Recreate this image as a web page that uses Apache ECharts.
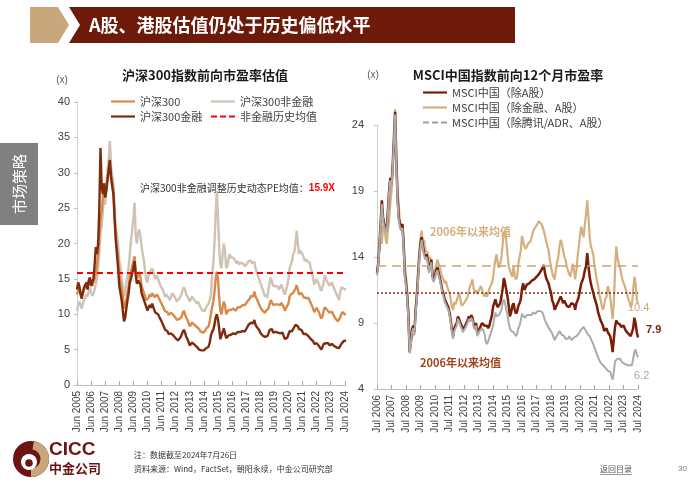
<!DOCTYPE html>
<html><head><meta charset="utf-8">
<script src="https://cdn.jsdelivr.net/npm/echarts/dist/echarts.min.js"></script>
<style>html,body{margin:0;padding:0;background:#fff}#c{width:700px;height:490px}</style>
</head><body><div id="c"></div>
<script>
// ---------------- DATA ----------------
// Left chart: monthly, Jun 2005 .. Jul 2024
const hs300NonFin = [
  10.5, 11.2, 11.8, 11.4, 10.8, 11.5, 12.0,
  12.3, 12.8, 12.5, 13.2, 13.8, 13.0, 12.6, 12.9, 13.5, 14.2, 15.0, 16.5,
  19.0, 21.5, 22.5, 24.5, 27.0, 25.5, 28.0, 30.5, 32.0, 34.5, 31.0, 29.5,
  28.5, 25.0, 22.0, 21.5, 20.0, 17.5, 16.8, 15.0, 14.0, 12.5, 13.0, 14.5,
  15.5, 16.8, 18.5, 20.5, 22.0, 23.5, 25.8, 21.0, 20.0, 21.5, 22.0, 21.0,
  19.5, 18.5, 17.5, 16.0, 14.8, 14.5, 15.5, 16.0, 15.8, 16.5, 16.0, 15.3,
  15.0, 15.5, 15.0, 14.8, 14.0, 13.8, 13.5, 13.0, 12.5, 12.8, 12.6, 12.3,
  12.0, 12.5, 13.0, 12.8, 12.5, 12.2, 11.8, 11.7, 12.2, 12.5, 12.8, 13.5,
  13.8, 13.5, 12.8, 12.5, 12.2, 11.8, 12.0, 12.5, 12.2, 12.0, 11.8, 11.5,
  11.8, 11.6, 11.0, 10.8, 10.5, 10.4, 10.5, 11.0, 11.2, 11.5, 12.0, 12.8,
  15.5, 17.0, 20.0, 24.0, 27.5, 24.0, 19.5, 17.0, 16.5, 18.5, 20.0, 19.0,
  16.5, 16.8, 17.8, 18.5, 18.0, 18.2, 18.0, 17.8, 17.5, 17.2, 17.5, 17.0,
  17.3, 17.5, 17.2, 17.0, 16.8, 17.0, 17.2, 17.5, 17.3, 17.6, 17.2, 17.0,
  17.4, 16.5, 16.0, 15.5, 15.0, 14.5, 14.0, 13.5, 13.0, 12.5, 12.8, 12.3,
  13.5, 14.5, 15.2, 15.0, 14.0, 14.2, 14.0, 13.8, 13.9, 13.5, 13.7, 14.2,
  14.0, 13.2, 12.8, 13.5, 14.0, 15.0, 16.5, 17.0, 17.5, 18.5, 18.8, 20.0,
  21.8, 20.0, 18.5, 19.0, 19.2, 18.5, 18.0, 17.5, 17.8, 17.5, 17.6, 17.3,
  16.5, 16.0, 15.0, 14.2, 14.5, 15.0, 14.8, 14.2, 13.6, 13.3, 13.5, 14.5,
  15.5, 15.0, 14.6, 14.3, 14.0, 14.2, 14.5, 14.0, 13.6, 13.2, 12.8, 12.5,
  12.0, 13.0, 13.8, 14.0, 13.6, 13.4, 13.5
];
const hs300 = [
  12.8, 13.3, 13.8, 13.2, 12.6, 13.0, 13.5,
  13.8, 14.2, 13.8, 14.5, 15.0, 14.3, 14.0, 14.5, 15.0, 15.8, 17.0, 18.5,
  21.0, 23.5, 24.5, 26.5, 28.5, 26.5, 28.0, 29.5, 30.0, 31.0, 29.0, 28.5,
  27.5, 24.0, 21.0, 19.5, 18.0, 15.5, 14.5, 13.5, 12.5, 10.8, 11.0, 12.0,
  13.0, 14.0, 15.5, 16.0, 16.8, 17.5, 18.2, 16.0, 15.0, 15.5, 16.0, 15.2,
  14.0, 13.5, 13.3, 12.5, 12.0, 11.8, 12.3, 12.8, 12.5, 13.0, 12.8, 12.4,
  12.2, 12.8, 12.5, 12.3, 11.8, 11.5, 11.3, 10.8, 10.4, 10.6, 10.3, 9.9,
  9.8, 10.2, 10.0, 9.9, 9.7, 9.5, 9.2, 9.0, 9.3, 9.5, 9.6, 10.2,
  10.5, 10.3, 9.5, 9.2, 9.0, 8.3, 8.4, 8.8, 8.6, 8.5, 8.4, 8.2,
  8.0, 7.9, 7.6, 7.5, 7.4, 7.5, 7.6, 8.0, 8.2, 8.3, 9.0, 10.0,
  11.0, 11.8, 13.0, 15.0, 16.0, 15.0, 12.5, 10.5, 10.0, 11.0, 11.8, 11.3,
  10.0, 10.2, 10.6, 10.8, 10.6, 10.7, 10.8, 10.6, 10.5, 10.7, 11.0, 10.8,
  11.0, 11.2, 11.3, 11.2, 11.3, 11.5, 11.8, 12.0, 12.2, 12.6, 12.8, 12.5,
  13.2, 12.5, 12.2, 11.8, 11.6, 11.0, 10.8, 10.5, 10.6, 10.2, 10.5, 10.3,
  10.8, 11.5, 12.0, 12.0, 11.3, 11.5, 11.4, 11.2, 11.4, 11.2, 11.3, 11.6,
  11.6, 11.0, 10.5, 10.9, 11.0, 11.5, 12.5, 12.8, 12.6, 13.0, 13.2, 13.6,
  14.1, 13.5, 12.8, 12.9, 13.0, 12.9, 12.4, 12.2, 12.3, 12.2, 12.3, 12.1,
  11.6, 11.5, 10.8, 10.3, 10.5, 10.9, 10.6, 10.3, 9.8, 9.4, 9.7, 10.5,
  11.0, 10.8, 10.6, 10.5, 10.2, 10.3, 10.4, 10.0, 9.7, 9.4, 9.2, 9.0,
  8.8, 9.5, 10.0, 10.3, 10.4, 10.0, 10.0
];
const hs300Fin = [
  13.5, 14.5, 14.0, 12.8, 12.2, 13.0, 13.8,
  14.0, 14.5, 13.5, 14.8, 15.2, 14.0, 13.8, 15.0, 17.0, 19.5, 18.5, 20.0,
  25.0, 33.5, 28.0, 27.0, 28.5, 26.5, 27.5, 29.0, 30.5, 31.8, 29.5, 28.0,
  27.0, 23.5, 20.5, 18.5, 16.5, 14.0, 13.0, 12.0, 10.5, 9.0, 9.5, 10.8,
  12.0, 13.0, 14.5, 15.0, 15.8, 16.5, 17.5, 15.5, 14.3, 14.8, 15.0, 14.2,
  13.0, 12.5, 12.4, 11.5, 11.0, 10.5, 11.0, 11.3, 10.9, 11.5, 11.0, 10.5,
  10.2, 10.4, 10.0, 9.8, 9.3, 9.0, 8.6, 8.2, 7.8, 7.9, 7.6, 7.2,
  7.0, 7.3, 7.1, 7.0, 6.8, 6.6, 6.4, 6.3, 6.5, 6.7, 6.9, 7.5,
  7.8, 7.4, 6.8, 6.5, 6.3, 5.6, 5.7, 6.0, 5.8, 5.7, 5.6, 5.4,
  5.2, 5.0, 4.9, 4.9, 4.8, 4.9, 5.0, 5.2, 5.3, 5.4, 6.0, 7.0,
  7.5, 7.8, 8.5, 9.5, 10.0, 9.3, 8.0, 6.5, 6.5, 7.5, 8.0, 7.3,
  6.6, 6.8, 7.0, 7.2, 7.1, 7.2, 7.3, 7.1, 7.2, 7.4, 7.5, 7.4,
  7.5, 7.6, 7.6, 7.5, 7.6, 7.8, 8.2, 8.5, 8.6, 8.8, 9.0, 8.7,
  9.2, 8.5, 8.2, 8.0, 7.8, 7.4, 7.2, 7.0, 7.1, 6.8, 7.0, 6.9,
  7.3, 7.8, 8.0, 7.9, 7.4, 7.6, 7.5, 7.3, 7.4, 7.2, 7.3, 7.5,
  7.4, 6.9, 6.5, 6.6, 6.7, 6.9, 7.6, 7.8, 7.6, 7.9, 8.2, 8.5,
  8.6, 8.3, 7.9, 7.7, 7.8, 7.6, 7.2, 7.1, 7.2, 7.0, 6.9, 6.8,
  6.5, 6.6, 6.2, 5.8, 5.8, 5.9, 5.7, 5.5, 5.3, 5.0, 5.2, 5.8,
  6.0, 5.9, 5.7, 5.9, 5.6, 5.7, 5.8, 5.6, 5.5, 5.4, 5.3, 5.2,
  5.2, 5.5, 5.8, 6.0, 6.2, 6.1, 6.3
];
const nonFinHistMean = 15.9;

// Right chart: monthly, Jul 2006 .. Jul 2024
const msciExFinA = [
  12.8, 13.5, 14.5, 15.5, 15.0, 16.3,
  16.5, 15.5, 15.0, 16.0, 16.8, 18.0, 19.0, 20.5, 22.5, 25.2, 21.5, 19.0,
  18.0, 16.5, 16.0, 16.5, 15.5, 13.5, 12.5, 11.5, 10.0, 7.0, 7.5, 8.5,
  8.0, 8.5, 10.0, 11.5, 13.0, 14.5, 15.5, 16.0, 15.0, 15.3, 14.5, 14.5,
  14.3, 13.8, 14.0, 13.5, 12.6, 12.8, 13.0, 13.4, 13.8, 13.5, 13.2, 12.8,
  12.5, 12.3, 12.0, 12.2, 11.8, 11.5, 11.3, 10.8, 10.2, 10.0, 10.6, 10.4,
  10.5, 11.0, 11.3, 10.8, 10.3, 10.4, 10.5, 10.6, 10.8, 11.0, 11.4, 11.8,
  12.0, 12.3, 11.6, 11.3, 11.5, 11.2, 11.4, 11.6, 11.8, 11.7, 11.2, 11.0,
  11.2, 11.0, 11.3, 11.6, 11.5, 12.0, 12.4, 13.2, 13.8, 14.2, 13.5, 13.2,
  13.5, 14.0, 15.0, 15.8, 16.0, 15.2, 14.2, 13.3, 13.0, 12.7, 12.5, 13.3,
  12.6, 12.3, 12.5, 13.5, 14.0, 14.5, 15.6, 15.2, 14.8, 14.6, 14.8, 15.0,
  15.0, 15.2, 15.5, 15.9, 16.1, 16.2, 16.4, 16.5, 16.7, 16.6, 16.5, 16.3,
  16.0, 15.6, 15.2, 14.8, 14.5, 13.8, 13.3, 12.8, 12.5, 12.3, 13.0, 13.6,
  14.0, 14.8, 15.3, 15.0, 14.5, 14.0, 13.8, 13.3, 13.0, 12.7, 12.5, 13.0,
  13.5, 13.0, 12.3, 13.0, 14.0, 14.8, 15.6, 16.3, 15.8, 15.5, 16.5, 17.2,
  18.3, 17.0, 15.5, 14.8, 14.5, 14.2, 13.3, 12.8, 12.2, 11.8, 11.2, 10.8,
  10.3, 10.0, 10.4, 10.8, 11.0, 11.8, 11.5, 11.0, 10.2, 9.3, 10.5, 13.0,
  14.8, 14.0, 13.5, 13.2, 12.8, 12.3, 12.2, 11.8, 11.5, 11.2, 10.8, 10.6,
  10.2, 10.4, 11.5, 12.5, 12.0, 10.8, 10.4
];
const msciExA = [
  12.8, 13.5, 15.0, 16.5, 18.3, 17.0,
  16.5, 16.3, 16.0, 17.5, 19.0, 20.0, 19.5, 21.0, 23.0, 25.0, 21.3, 18.5,
  17.0, 16.5, 16.3, 16.5, 15.0, 12.8, 12.0, 11.0, 9.5, 6.8, 7.5, 8.5,
  8.8, 8.3, 10.0, 11.0, 12.5, 14.0, 15.0, 15.5, 14.8, 14.3, 14.0, 14.2,
  13.8, 13.0, 13.3, 13.8, 12.5, 12.3, 12.6, 13.0, 13.2, 12.8, 12.4, 12.0,
  11.5, 11.2, 10.8, 10.6, 10.5, 10.2, 9.8, 9.2, 8.5, 8.0, 8.6, 8.8,
  9.0, 9.5, 9.3, 9.0, 8.8, 8.5, 8.6, 8.8, 9.0, 9.2, 9.5, 9.3,
  9.6, 9.4, 8.9, 8.7, 9.0, 8.2, 8.4, 8.6, 8.8, 9.0, 8.9, 8.8,
  8.7, 8.8, 8.6, 8.8, 9.2, 9.5, 10.2, 10.5, 10.8, 10.4, 10.2, 10.3,
  10.5, 11.0, 11.6, 12.4, 12.0, 11.5, 11.0, 10.3, 9.5, 9.8, 10.3, 10.5,
  10.0, 9.7, 9.9, 10.3, 10.5, 10.8, 11.6, 12.0, 11.5, 11.7, 11.9, 12.0,
  12.0, 12.1, 12.2, 12.3, 12.3, 12.4, 12.5, 12.6, 12.7, 12.8, 13.0, 13.1,
  13.4, 12.8, 12.4, 12.2, 12.0, 11.6, 11.3, 10.7, 10.5, 10.0, 10.2, 10.4,
  10.5, 10.8, 11.0, 10.8, 10.5, 10.7, 10.5, 10.3, 10.4, 10.2, 10.3, 10.5,
  10.5, 10.4, 10.0, 10.5, 10.7, 11.0, 11.5, 12.0, 12.2, 12.5, 13.0, 13.3,
  14.3, 13.3, 12.5, 12.0, 11.6, 11.3, 10.9, 10.6, 10.3, 9.8, 9.5, 9.2,
  9.0, 8.8, 8.4, 8.5, 8.6, 8.3, 8.2, 8.0, 7.5, 6.8, 7.8, 8.7,
  9.2, 9.0, 9.0, 8.9, 8.7, 8.7, 8.8, 8.6, 8.4, 8.3, 8.2, 8.1,
  8.0, 8.1, 8.6, 9.4, 9.0, 8.3, 7.9
];
const msciExTencentA = [
  12.6, 13.3, 14.8, 16.3, 18.0, 16.8,
  16.3, 16.0, 15.8, 17.2, 18.8, 19.8, 19.3, 20.8, 22.8, 24.8, 21.0, 18.2,
  16.8, 16.2, 16.0, 16.2, 14.8, 12.5, 11.8, 10.8, 9.3, 6.7, 7.3, 8.3,
  8.6, 8.1, 9.8, 10.8, 12.3, 13.8, 14.8, 15.3, 14.6, 14.1, 13.8, 14.0,
  13.6, 12.8, 13.1, 13.6, 12.3, 12.1, 12.4, 12.8, 13.0, 12.6, 12.2, 11.8,
  11.3, 11.0, 10.6, 10.4, 10.3, 10.0, 9.6, 9.0, 8.3, 7.8, 8.4, 8.6,
  8.8, 9.3, 9.1, 8.8, 8.6, 8.3, 8.4, 8.6, 8.8, 9.0, 9.3, 9.1,
  9.4, 9.2, 8.7, 8.5, 8.8, 8.0, 8.2, 8.4, 8.5, 8.6, 8.4, 8.2,
  7.6, 7.4, 7.6, 7.9, 8.2, 8.5, 8.8, 9.3, 9.8, 9.5, 9.4, 9.6,
  9.8, 10.0, 10.5, 10.8, 10.5, 10.0, 9.6, 9.0, 8.6, 8.4, 8.5, 8.3,
  8.2, 8.0, 8.2, 8.6, 8.8, 9.2, 9.7, 9.6, 9.4, 9.5, 9.6, 9.5,
  9.6, 9.7, 9.6, 9.8, 9.7, 9.7, 9.8, 9.9, 10.0, 9.9, 10.0, 9.8,
  9.5, 9.2, 9.0, 8.8, 8.7, 8.5, 8.4, 8.2, 8.1, 7.7, 7.9, 8.0,
  8.2, 8.4, 8.3, 8.1, 8.0, 8.0, 7.8, 7.7, 7.8, 8.0, 7.9, 7.7,
  7.8, 7.9, 7.8, 8.0, 8.1, 8.2, 8.3, 8.5, 8.6, 8.7, 8.6, 8.4,
  8.2, 8.3, 8.0, 7.8, 7.6, 7.4, 7.1, 6.9, 6.6, 6.4, 6.2, 6.0,
  5.9, 5.8, 5.7, 5.6, 5.5, 5.4, 5.4, 5.3, 5.0, 4.7, 5.3, 6.1,
  6.2, 6.3, 6.4, 6.3, 6.2, 6.0, 6.1, 5.9, 5.9, 5.8, 5.9, 5.8,
  5.7, 5.8, 6.3, 6.8, 7.0, 6.6, 6.4
];
const exFinMean = 13.3;
const exAMean = 11.3;

const leftYTicks = [0, 5, 10, 15, 20, 25, 30, 35, 40];
const rightYTicks = [4, 9, 14, 19, 24];

// ---------------- BUILD ----------------
const MONTHS = ['Jan','Feb','Mar','Apr','May','Jun','Jul','Aug','Sep','Oct','Nov','Dec'];
function monthLabels(y0, m0, n) {
  const out = [];
  for (let i = 0; i < n; i++) {
    const k = m0 + i;
    out.push(MONTHS[k % 12] + ' ' + (y0 + Math.floor(k / 12)));
  }
  return out;
}
const leftCats = monthLabels(2005, 5, hs300.length);
const rightCats = monthLabels(2006, 6, msciExA.length);

const FF = "'Liberation Sans','Noto Sans CJK SC',sans-serif";
const CJK = "'Noto Sans CJK SC','Liberation Sans',sans-serif";
const TXT = '#404040';
const C_HS = '#DA8A48', C_NF = '#CFC3B4', C_FIN = '#7E2C0E';
const C_TAN = '#D4B07E', C_BR = '#7A1E08', C_GR = '#ABABAB';

const ICON_SOLID = 'path://M0,0h24v2.2h-24z';
const ICON_DASH = 'path://M0,0h6v2.2h-6zM9,0h6v2.2h-6zM18,0h6v2.2h-6z';

const chart = echarts.init(document.getElementById('c'), null, {renderer: 'canvas'});

function xAxisCfg(gridIndex, cats, month) {
  const f = (i, v) => v.indexOf(month) === 0;
  return {
    type: 'category', gridIndex, data: cats, boundaryGap: false,
    axisLine: {show: true, lineStyle: {color: '#BFBFBF', width: 1}},
    axisTick: {show: true, inside: true, length: 4, interval: f, lineStyle: {color: '#A6A6A6'}},
    axisLabel: {interval: f, rotate: 90, fontSize: 10, color: TXT, margin: 6, fontFamily: FF},
    splitLine: {show: false}
  };
}
function yAxisCfg(gridIndex, ticks, margin) {
  return {
    type: 'value', gridIndex, min: ticks[0], max: ticks[ticks.length - 1],
    interval: ticks[1] - ticks[0],
    axisLine: {show: true, lineStyle: {color: '#D0D0D0'}},
    axisTick: {show: true, length: 3, lineStyle: {color: '#BFBFBF'}},
    axisLabel: {fontSize: 11, color: TXT, margin: margin, fontFamily: FF},
    splitLine: {show: false}
  };
}
function lineSeries(name, data, color, width, xi, z) {
  return {
    name, type: 'line', data, xAxisIndex: xi, yAxisIndex: xi,
    symbol: 'none', smooth: false, z, clip: false,
    lineStyle: {color, width}, itemStyle: {color},
    emphasis: {disabled: true}, animation: false
  };
}

const legendText = {fontSize: 11, color: TXT, fontFamily: CJK, lineHeight: 13};
function legendCfg(left, top, items) {
  return {left, top, orient: 'vertical', itemWidth: 24, itemHeight: 2.2, itemGap: 2,
    padding: 0, textStyle: legendText, selectedMode: false, symbolKeepAspect: false,
    data: items.map(([name, icon]) => ({name, icon}))};
}

const option = {
  animation: false,
  textStyle: {fontFamily: FF},
  grid: [
    {left: 77, top: 102, width: 269, height: 283},
    {left: 377, top: 125, width: 261, height: 264}
  ],
  xAxis: [xAxisCfg(0, leftCats, 'Jun'), xAxisCfg(1, rightCats, 'Jul')],
  yAxis: [yAxisCfg(0, leftYTicks, 7), yAxisCfg(1, rightYTicks, 13)],
  legend: [
    legendCfg(111, 95, [['沪深300', ICON_SOLID], ['沪深300金融', ICON_SOLID]]),
    legendCfg(211, 95, [['沪深300非金融', ICON_SOLID], ['非金融历史均值', ICON_DASH]]),
    legendCfg(423, 86, [['MSCI中国（除A股）', ICON_SOLID], ['MSCI中国（除金融、A股）', ICON_SOLID],
                        ['MSCI中国（除腾讯/ADR、A股）', ICON_DASH]])
  ],
  series: [
    lineSeries('沪深300非金融', hs300NonFin, C_NF, 2.4, 0, 2),
    lineSeries('沪深300', hs300, C_HS, 2.4, 0, 3),
    lineSeries('沪深300金融', hs300Fin, C_FIN, 2.4, 0, 4),
    {
      name: '非金融历史均值', type: 'line', data: [], xAxisIndex: 0, yAxisIndex: 0, z: 6,
      symbol: 'none', lineStyle: {color: '#FF0000', width: 2, type: [6, 4]}, itemStyle: {color: '#FF0000'},
      markLine: {silent: true, symbol: 'none', label: {show: false},
        lineStyle: {color: '#FF0000', width: 2, type: [6, 4]},
        data: [{yAxis: nonFinHistMean}]}
    },
    Object.assign(lineSeries('MSCI中国（除金融、A股）', msciExFinA, C_TAN, 2.2, 1, 2), {
      markLine: {silent: true, symbol: 'none', label: {show: false},
        lineStyle: {color: '#C9A574', width: 1.5, type: [9, 6]},
        data: [{yAxis: exFinMean}]}
    }),
    Object.assign(lineSeries('MSCI中国（除A股）', msciExA, C_BR, 2.5, 1, 3), {
      markLine: {silent: true, symbol: 'none', label: {show: false},
        lineStyle: {color: '#8A2A12', width: 1.5, type: [2, 2]},
        data: [{yAxis: exAMean}]}
    }),
    Object.assign(lineSeries('MSCI中国（除腾讯/ADR、A股）', msciExTencentA, C_GR, 2, 1, 4), {
      itemStyle: {color: '#9E9E9E'}
    })
  ],
  graphic: [
    // header
    {type: 'polygon', shape: {points: [[30, 7], [58, 7], [69, 25], [58, 43], [30, 43]]}, style: {fill: '#C9A77C'}},
    {type: 'polygon', shape: {points: [[69, 7], [515, 7], [515, 43], [69, 43], [80, 25]]}, style: {fill: '#6E1A0B'}},
    {type: 'text', x: 89, y: 25, style: {text: 'A股、港股估值仍处于历史偏低水平', fill: '#fff',
      font: "bold 18px 'Noto Sans CJK SC',sans-serif", textVerticalAlign: 'middle'}},
    // side tab
    {type: 'rect', shape: {x: 0, y: 143, width: 38, height: 82}, style: {fill: '#808080'}},
    {type: 'text', x: 19, y: 184, rotation: Math.PI / 2, style: {text: '市场策略', fill: '#fff',
      font: "15px 'Noto Sans CJK SC',sans-serif", textAlign: 'center', textVerticalAlign: 'middle'}},
    // titles
    {type: 'text', x: 205, y: 75, style: {text: '沪深300指数前向市盈率估值', fill: '#1a1a1a',
      font: "bold 13px 'Noto Sans CJK SC',sans-serif", textAlign: 'center', textVerticalAlign: 'middle'}},
    {type: 'text', x: 508, y: 75, style: {text: 'MSCI中国指数前向12个月市盈率', fill: '#1a1a1a',
      font: "bold 13px 'Noto Sans CJK SC',sans-serif", textAlign: 'center', textVerticalAlign: 'middle'}},
    {type: 'text', x: 62, y: 80, style: {text: '(x)', fill: '#595959', font: "10px " + FF,
      textAlign: 'center', textVerticalAlign: 'middle'}},
    {type: 'text', x: 373, y: 75, style: {text: '(x)', fill: '#595959', font: "10px " + FF,
      textAlign: 'center', textVerticalAlign: 'middle'}},
    // annotations left
    {type: 'text', x: 140, y: 188, style: {
      text: '{a|沪深300非金融调整历史动态PE均值：}{b|15.9X}', textVerticalAlign: 'middle',
      rich: {a: {fontSize: 10, fill: '#333', fontFamily: CJK},
             b: {fontSize: 10, fill: '#FF0000', fontWeight: 'bold', fontFamily: FF}}}},
    // annotations right
    {type: 'text', x: 430, y: 232, style: {text: '2006年以来均值', fill: '#D4B07E',
      font: "bold 11px 'Noto Sans CJK SC',sans-serif", textVerticalAlign: 'middle'}},
    {type: 'text', x: 420, y: 363, style: {text: '2006年以来均值', fill: '#A0461C',
      font: "bold 11px 'Noto Sans CJK SC',sans-serif", textVerticalAlign: 'middle'}},
    {type: 'text', x: 628, y: 308, style: {text: '10.4', fill: '#CDA877', font: "11px " + FF, textVerticalAlign: 'middle'}},
    {type: 'text', x: 646, y: 330, style: {text: '7.9', fill: '#7A1E08', font: "bold 11px " + FF, textVerticalAlign: 'middle'}},
    {type: 'text', x: 634, y: 376, style: {text: '6.2', fill: '#A6A6A6', font: "11px " + FF, textVerticalAlign: 'middle'}},
    // footer logo
    {type: 'circle', shape: {cx: 31, cy: 459, r: 18}, style: {fill: '#6B1512'}},
    {type: 'sector', shape: {cx: 31, cy: 459, r: 18, r0: 9.5, startAngle: -Math.PI * 0.45, endAngle: Math.PI * 0.5}, style: {fill: '#C9A77C'}},
    {type: 'circle', shape: {cx: 29, cy: 462, r: 8}, style: {fill: '#fff'}},
    {type: 'circle', shape: {cx: 29, cy: 463, r: 3.8}, style: {fill: '#6B1512'}},
    {type: 'text', x: 49, y: 450, style: {text: 'CICC', fill: '#6B1512', font: "bold 19px " + FF, textVerticalAlign: 'middle'}},
    {type: 'text', x: 49, y: 468, style: {text: '中金公司', fill: '#6B1512', font: "bold 13px 'Noto Sans CJK SC',sans-serif", textVerticalAlign: 'middle'}},
    {type: 'text', x: 134, y: 455, style: {text: '注：数据截至2024年7月26日', fill: '#333', font: "8px " + CJK, textVerticalAlign: 'middle'}},
    {type: 'text', x: 134, y: 469, style: {text: '资料来源：Wind，FactSet，朝阳永续，中金公司研究部', fill: '#333', font: "8px " + CJK, textVerticalAlign: 'middle'}},
    {type: 'text', x: 600, y: 469, style: {text: '返回目录', fill: '#555', font: "8px " + CJK, textVerticalAlign: 'middle'}},
    {type: 'rect', shape: {x: 600, y: 474, width: 32, height: 0.6}, style: {fill: '#555'}},
    {type: 'text', x: 678, y: 469, style: {text: '30', fill: '#777', font: "8px " + FF, textVerticalAlign: 'middle'}}
  ]
};
chart.setOption(option);
</script></body></html>
